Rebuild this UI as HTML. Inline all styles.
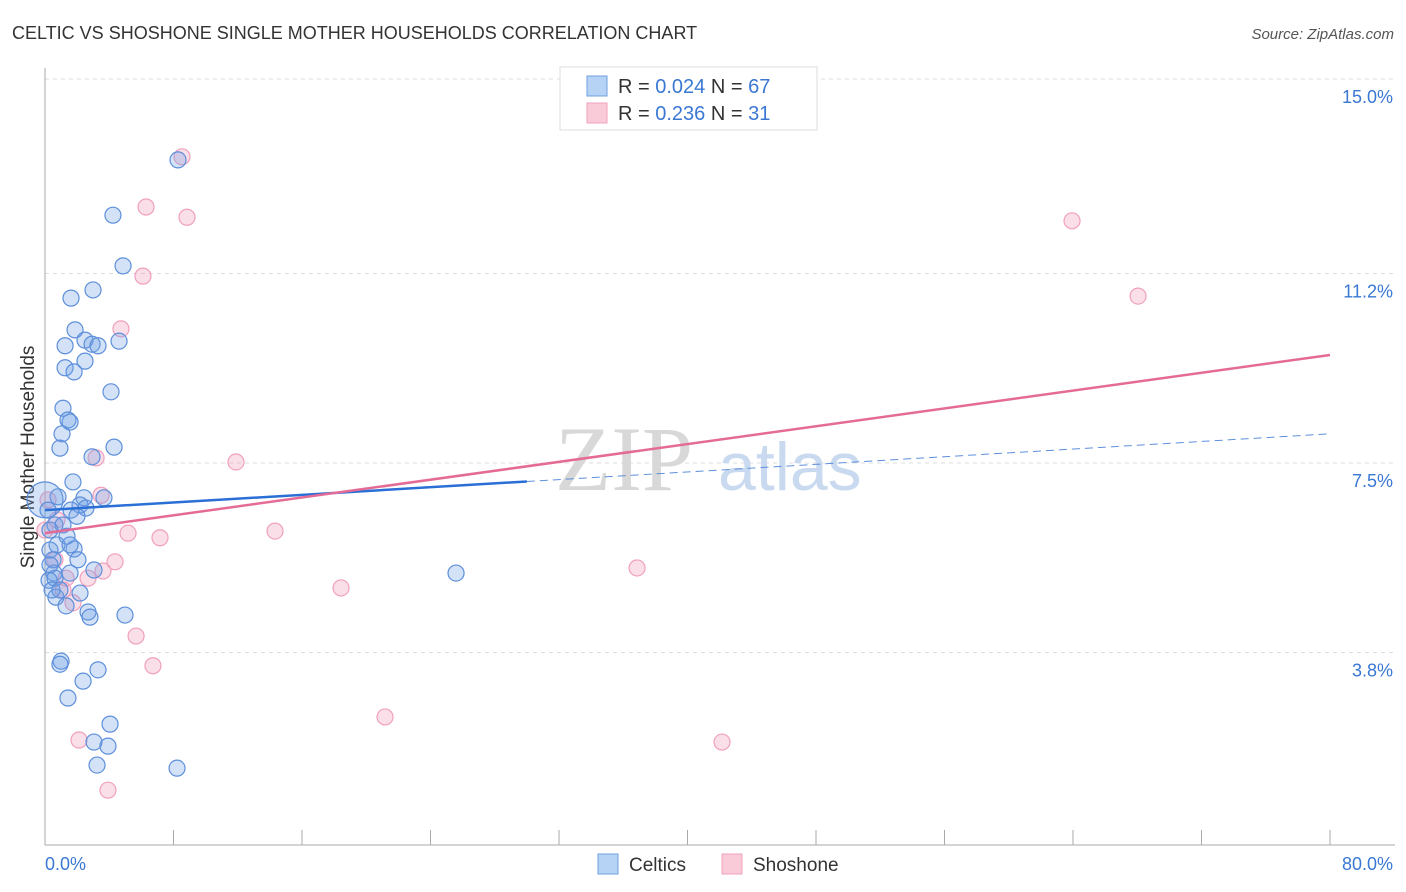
<!DOCTYPE html>
<html><head><meta charset="utf-8"><style>
body{margin:0;background:#fff;font-family:"Liberation Sans",sans-serif}
svg{display:block}
</style></head><body>
<svg id="c" width="1406" height="892">
<text x="12" y="39" font-size="18" fill="#333">CELTIC VS SHOSHONE SINGLE MOTHER HOUSEHOLDS CORRELATION CHART</text>
<text x="1394" y="39" font-size="15" fill="#555" font-style="italic" text-anchor="end">Source: ZipAtlas.com</text>
<text x="34" y="457" font-size="19" fill="#333" text-anchor="middle" transform="rotate(-90 34 457)">Single Mother Households</text>
<g id="grid"></g>
<text x="555" y="490" font-size="92" fill="#d8d8d8" font-family="Liberation Serif">ZIP</text>
<text x="718" y="490" font-size="68" fill="#c9daf0">atlas</text>
<g id="pts"></g>
<g id="lines"></g>
<g>
<rect x="560" y="67" width="257" height="63" fill="#fff" stroke="#ddd"/>
<rect x="587" y="76" width="20" height="20" fill="#b6d2f5" stroke="#6fa0e0"/>
<text x="618" y="93" font-size="20" fill="#333">R = <tspan fill="#3a78d4">0.024</tspan>   N = <tspan fill="#3a78d4">67</tspan></text>
<rect x="587" y="103" width="20" height="20" fill="#f9cbd9" stroke="#f0a0bd"/>
<text x="618" y="120" font-size="20" fill="#333">R =  <tspan fill="#3a78d4">0.236</tspan>   N =  <tspan fill="#3a78d4">31</tspan></text>
</g>
<g>
<rect x="598" y="854" width="20" height="20" fill="#b6d2f5" stroke="#6fa0e0"/>
<text x="629" y="871" font-size="19" fill="#333">Celtics</text>
<rect x="722" y="854" width="20" height="20" fill="#f9cbd9" stroke="#f0a0bd"/>
<text x="753" y="871" font-size="19" fill="#333">Shoshone</text>
</g>
</svg>
<script>
const yTicks=[15.0,11.2,7.5,3.8];
const yTickLabels=["15.0%","11.2%","7.5%","3.8%"];
const xTickLabels=["0.0%","80.0%"];
const blueX=[8.28,4.23,4.86,2.99,1.62,1.87,2.49,1.25,2.93,3.30,4.61,2.49,1.25,1.81,4.11,1.12,1.43,1.56,1.06,0.93,4.30,2.93,1.74,0.81,2.43,3.67,2.18,2.55,1.62,1.99,0.62,1.12,0.31,1.37,0.75,1.81,0.31,0.50,2.05,3.05,0.56,1.56,0.25,0.62,2.18,0.68,1.31,2.68,2.80,4.98,1.00,0.93,3.30,2.37,1.43,4.05,3.05,3.92,3.24,8.22,25.59,0,0.19,0.31,0.44,0.93,1.56];
const blueY=[13.42,12.34,11.35,10.88,10.72,10.10,9.90,9.79,9.82,9.79,9.88,9.49,9.36,9.28,8.89,8.57,8.34,8.30,8.07,7.79,7.81,7.62,7.13,6.84,6.82,6.82,6.68,6.62,6.58,6.46,6.29,6.29,6.19,6.07,5.90,5.82,5.80,5.61,5.61,5.41,5.35,5.35,5.21,5.25,4.96,4.88,4.71,4.59,4.49,4.53,3.63,3.57,3.46,3.24,2.91,2.40,2.05,1.97,1.60,1.54,5.35,6.78,6.58,5.51,5.02,5.02,5.90];
const pinkX=[8.53,6.29,8.84,6.10,4.73,63.94,68.05,3.18,11.89,3.49,0.19,14.32,5.17,7.16,4.36,3.61,2.68,1.31,1.12,1.74,18.43,36.86,5.67,6.72,21.17,2.12,42.15,3.92,0.62,0.75,0];
const pinkY=[13.48,12.50,12.30,11.15,10.12,12.23,10.76,7.60,7.52,6.87,6.78,6.17,6.13,6.04,5.57,5.39,5.25,5.25,5.02,4.77,5.06,5.45,4.12,3.54,2.54,2.09,2.05,1.11,5.61,6.39,6.19];
const blueTrend=[6.58,8.07]; const blueSolidEnd=30;
const pinkTrend=[6.13,9.61];
const X=v=>45+v/80*1285, Y=v=>847-v*51.2;
const NS="http://www.w3.org/2000/svg";
function mk(t,a,p){const e=document.createElementNS(NS,t);for(const k in a)e.setAttribute(k,a[k]);p.appendChild(e);return e;}
const grid=document.getElementById('grid');
yTicks.forEach((v,i)=>{
 const l=mk('line',{x1:45,x2:1395,y1:Y(v),y2:Y(v),stroke:'#ddd','stroke-dasharray':'4,4'},grid);
 
 
 const t=mk('text',{x:1393,y:Y(v)+24,'font-size':18,fill:'#3a78d4','text-anchor':'end'},grid);
 t.textContent=yTickLabels[i];
 
 
});
const ax=mk('line',{x1:45,x2:45,y1:68,y2:845,stroke:'#aaa'},grid);


const bx=mk('line',{x1:45,x2:1395,y1:845,y2:845,stroke:'#aaa'},grid);


for(let i=0;i<=10;i++){const t=mk('line',{x1:X(i*8),x2:X(i*8),y1:830,y2:845,stroke:'#aaa'},grid);
 
 }
[[45,'start'],[1393,'end']].forEach((p,i)=>{const t=mk('text',{x:p[0],y:870,'font-size':18,fill:'#3a78d4','text-anchor':p[1]},grid);t.textContent=xTickLabels[i];
 
 });
const pts=document.getElementById('pts');
pinkX.forEach((x,i)=>{const c=mk('circle',{cx:X(x),cy:Y(pinkY[i]),r:8,fill:'rgba(240,150,180,0.3)',stroke:'#f0a0bd','stroke-width':1.2},pts);
 
 });
blueX.forEach((x,i)=>{const c=mk('circle',{cx:X(x),cy:Y(blueY[i]),r:i==61?18:8,fill:'rgba(110,160,230,0.3)',stroke:'#5d8fdb','stroke-width':1.2},pts);
 
 });
const lines=document.getElementById('lines');
const bAt=v=>blueTrend[0]+(blueTrend[1]-blueTrend[0])*v/80;
let l1=mk('line',{x1:X(0),y1:Y(bAt(0)),x2:X(blueSolidEnd),y2:Y(bAt(blueSolidEnd)),stroke:'#2a6fd6','stroke-width':2.5},lines);


let l2=mk('line',{x1:X(blueSolidEnd),y1:Y(bAt(blueSolidEnd)),x2:X(80),y2:Y(bAt(80)),stroke:'#5d8fdb','stroke-width':1,'stroke-dasharray':'8,5'},lines);


let l3=mk('line',{x1:X(0),y1:Y(pinkTrend[0]),x2:X(80),y2:Y(pinkTrend[1]),stroke:'#e56b97','stroke-width':2.5},lines);


</script>
</body></html>
